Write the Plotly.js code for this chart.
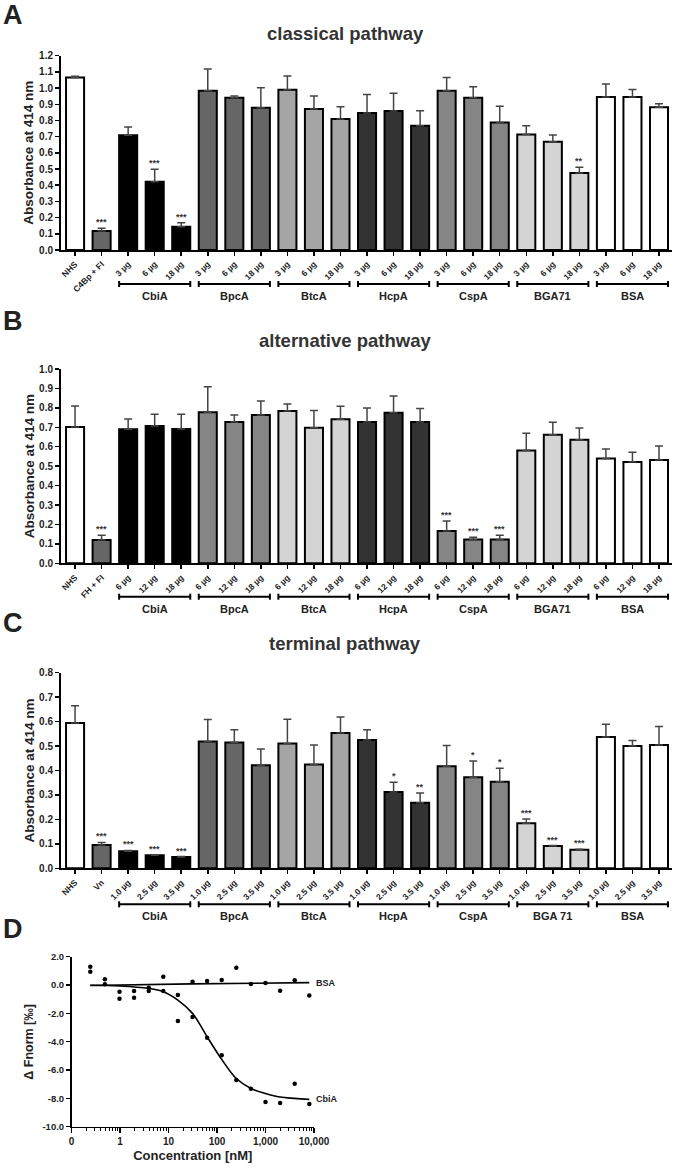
<!DOCTYPE html>
<html>
<head>
<meta charset="utf-8">
<script src="https://cdn.plot.ly/plotly-3.0.1.min.js"></script>
<style>
  html, body { margin: 0; padding: 0; background: #fff; }
  #fig { width: 675px; height: 1168px; }
</style>
</head>
<body>
<div id="fig"></div>
<script>
(function () {
  "use strict";
  const W = 675, H = 1168;
  const FONT = "Liberation Sans, Arial, sans-serif";

  // ---- data: panel A (classical pathway) ----
  const ctrlA = ["NHS", "C4Bp + FI"];
  const groupsA = ["CbiA", "BpcA", "BtcA", "HcpA", "CspA", "BGA71", "BSA"];
  const dosesA = ["3 µg", "6 µg", "18 µg"];
  const valA = [1.065, 0.117, 0.708, 0.422, 0.144, 0.984, 0.941, 0.879, 0.990, 0.871, 0.809,
                0.846, 0.858, 0.768, 0.984, 0.941, 0.788, 0.714, 0.669, 0.476, 0.945, 0.945, 0.881];
  const errA = [0.008, 0.017, 0.052, 0.077, 0.025, 0.134, 0.010, 0.123, 0.085, 0.080, 0.076,
                0.115, 0.110, 0.092, 0.082, 0.068, 0.100, 0.054, 0.041, 0.035, 0.080, 0.047, 0.023];
  const starsA = ["", "***", "", "***", "***", "", "", "", "", "", "", "", "", "", "", "", "",
                  "", "", "**", "", "", ""];
  const colA = ["#ffffff", "#666666", "#000000", "#666666", "#a5a5a5", "#333333", "#858585", "#d4d4d4", "#ffffff"];

  // ---- data: panel B (alternative pathway) ----
  const ctrlB = ["NHS", "FH + FI"];
  const groupsB = ["CbiA", "BpcA", "BtcA", "HcpA", "CspA", "BGA71", "BSA"];
  const dosesB = ["6 µg", "12 µg", "18 µg"];
  const valB = [0.702, 0.120, 0.690, 0.707, 0.691, 0.777, 0.727, 0.763, 0.784, 0.698, 0.741,
                0.727, 0.775, 0.727, 0.166, 0.122, 0.122, 0.581, 0.662, 0.636, 0.540, 0.521, 0.532];
  const errB = [0.108, 0.024, 0.053, 0.060, 0.076, 0.132, 0.036, 0.072, 0.036, 0.088, 0.067,
                0.072, 0.086, 0.070, 0.052, 0.012, 0.022, 0.088, 0.064, 0.060, 0.048, 0.050, 0.072];
  const starsB = ["", "***", "", "", "", "", "", "", "", "", "", "", "", "", "***", "***", "***",
                  "", "", "", "", "", ""];
  const colB = ["#ffffff", "#666666", "#000000", "#858585", "#d4d4d4", "#333333", "#858585", "#d4d4d4", "#ffffff"];

  // ---- data: panel C (terminal pathway) ----
  const ctrlC = ["NHS", "Vn"];
  const groupsC = ["CbiA", "BpcA", "BtcA", "HcpA", "CspA", "BGA 71", "BSA"];
  const dosesC = ["1.0 µg", "2.5 µg", "3.5 µg"];
  const valC = [0.594, 0.095, 0.070, 0.053, 0.046, 0.519, 0.515, 0.421, 0.510, 0.425, 0.553,
                0.525, 0.312, 0.268, 0.417, 0.372, 0.354, 0.184, 0.091, 0.076, 0.537, 0.500, 0.504];
  const errC = [0.071, 0.011, 0.003, 0.002, 0.002, 0.090, 0.052, 0.067, 0.100, 0.079, 0.066,
                0.042, 0.040, 0.040, 0.085, 0.067, 0.055, 0.018, 0.002, 0.002, 0.052, 0.023, 0.076];
  const starsC = ["", "***", "***", "***", "***", "", "", "", "", "", "", "", "*", "**", "", "*", "*",
                  "***", "***", "***", "", "", ""];
  const colC = ["#ffffff", "#666666", "#000000", "#666666", "#a5a5a5", "#333333", "#858585", "#d4d4d4", "#ffffff"];

  // ---- data: panel D (MST binding) ----
  const concD = [0.244, 0.488, 0.977, 1.95, 3.91, 7.81, 15.6, 31.3, 62.5, 125, 250, 500, 1000, 2000, 4000, 8000];
  const bsaD  = [0.94, 0.05, -0.47, -0.42, -0.19, 0.59, -0.71, 0.24, 0.28, 0.35, 1.22, 0.07, 0.14, -0.40, 0.33, -0.73];
  const cbiaD = [1.29, 0.40, -0.96, -0.89, -0.42, -0.42, -2.54, -2.26, -3.72, -4.96, -6.70, -7.32, -8.26, -8.33, -6.96, -8.40];
  const fitBsaX = [0.244, 30, 8000];
  const fitBsaY = [-0.03, 0.08, 0.17];
  const fitCbiaX = [0.244, 0.977, 3.91, 7.81, 15.6, 31.3, 62.5, 125, 250, 500, 1000, 2000, 4000, 8000];
  const fitCbiaY = [-0.02, -0.07, -0.24, -0.47, -1.06, -2.00, -3.65, -5.25, -6.60, -7.30, -7.65, -7.90, -8.00, -8.07];
  const xTickD = [0.1, 1, 10, 100, 1000, 10000];
  const xTextD = ["0", "1", "10", "100", "1,000", "10,000"];

  const py = px => 1 - px / H;
  const traces = [], shapes = [], annotations = [];
  const layout = {
    width: W, height: H, margin: { l: 0, r: 0, t: 0, b: 0 },
    paper_bgcolor: "#fff", plot_bgcolor: "rgba(0,0,0,0)", showlegend: false,
    font: { family: FONT, color: "#222" }
  };

  function bold(size, color) {
    return { family: FONT, size: size, color: color || "#222", weight: "bold" };
  }

  // one bar panel with group brackets underneath
  function barPanel(n, ctrl, groups, doses, vals, errs, stars, cols, opt) {
    const xs = vals.map((v, i) => i);
    const labels = ctrl.slice();
    const colors = [cols[0], cols[1]];
    groups.forEach((g, gi) => doses.forEach(d => { labels.push(d); colors.push(cols[gi + 2]); }));
    const sfx = n === 1 ? "" : String(n);
    traces.push({
      type: "bar", x: xs, y: vals, xaxis: "x" + sfx, yaxis: "y" + sfx, width: 0.68,
      marker: { color: colors, line: { color: "#000", width: 2 } },
      error_y: { type: "data", symmetric: false, array: errs, arrayminus: errs.map(() => 0),
                 color: "#444", thickness: 1.5, width: 4 },
      hoverinfo: "skip"
    });
    layout["xaxis" + sfx] = {
      domain: [61 / W, 672 / W], range: [-0.53, vals.length - 0.51], anchor: "y" + sfx,
      tickmode: "array", tickvals: xs, ticktext: labels, tickangle: -45,
      tickfont: bold(8.5), ticks: "outside", ticklen: 4, tickwidth: 1.5, tickcolor: "#000",
      showline: true, linecolor: "#000", linewidth: 2, showgrid: false, zeroline: false, fixedrange: true
    };
    layout["yaxis" + sfx] = {
      domain: [py(opt.bottom), py(opt.top)], range: [0, opt.ymax], anchor: "x" + sfx,
      dtick: 0.1, tick0: 0, tickformat: ".1f", tickfont: bold(10),
      ticks: "outside", ticklen: 4, tickwidth: 1.5, tickcolor: "#000",
      showline: true, linecolor: "#000", linewidth: 2, showgrid: false, zeroline: false, fixedrange: true
    };
    // significance stars
    stars.forEach((s, i) => {
      if (!s) return;
      annotations.push({ x: i, y: vals[i] + errs[i], xref: "x" + sfx, yref: "y" + sfx, text: s,
        showarrow: false, xanchor: "center", yanchor: "bottom", yshift: -1, font: bold(9, "#333") });
    });
    // group brackets
    groups.forEach((g, gi) => {
      const a = 2 + gi * doses.length - 0.34, b = 2 + gi * doses.length + doses.length - 1 + 0.34;
      const yl = py(opt.bracket), cap = 3 / H;
      const ln = { color: "#000", width: 2 };
      shapes.push({ type: "line", xref: "x" + sfx, yref: "paper", x0: a, x1: b, y0: yl, y1: yl, line: ln });
      shapes.push({ type: "line", xref: "x" + sfx, yref: "paper", x0: a, x1: a, y0: yl - cap, y1: yl + cap, line: ln });
      shapes.push({ type: "line", xref: "x" + sfx, yref: "paper", x0: b, x1: b, y0: yl - cap, y1: yl + cap, line: ln });
      annotations.push({ x: (a + b) / 2, y: py(opt.label), xref: "x" + sfx, yref: "paper", text: g,
        showarrow: false, xanchor: "center", yanchor: "middle", font: bold(11) });
    });
    // panel title, y title, letter
    annotations.push({ x: 345 / W, y: py(opt.title), xref: "paper", yref: "paper", text: opt.name,
      showarrow: false, xanchor: "center", yanchor: "middle", font: bold(18.5, "#333") });
    annotations.push({ x: 29 / W, y: py((opt.top + opt.bottom) / 2), xref: "paper", yref: "paper",
      text: "Absorbance at 414 nm", textangle: -90, showarrow: false, xanchor: "center", yanchor: "middle",
      font: bold(13.5) });
    annotations.push({ x: 13 / W, y: py(opt.letterY), xref: "paper", yref: "paper", text: opt.letter,
      showarrow: false, xanchor: "center", yanchor: "middle", font: bold(27, "#222") });
  }

  barPanel(1, ctrlA, groupsA, dosesA, valA, errA, starsA, colA,
    { top: 55.7, bottom: 250, ymax: 1.2, bracket: 284, label: 295.5, title: 34, name: "classical pathway", letter: "A", letterY: 15 });
  barPanel(2, ctrlB, groupsB, dosesB, valB, errB, starsB, colB,
    { top: 369, bottom: 563.3, ymax: 1.0, bracket: 596.7, label: 608.5, title: 341, name: "alternative pathway", letter: "B", letterY: 321 });
  barPanel(3, ctrlC, groupsC, dosesC, valC, errC, starsC, colC,
    { top: 672.7, bottom: 868.3, ymax: 0.8, bracket: 904.3, label: 916, title: 643, name: "terminal pathway", letter: "C", letterY: 623 });

  // ---- panel D ----
  const minorD = [];
  xTickD.slice(0, -1).forEach(d => { for (let k = 2; k <= 9; k++) minorD.push(d * k); });
  const yTickD = [];
  for (let v = -10; v <= 2; v += 2) yTickD.push(v);

  traces.push({ type: "scatter", mode: "lines", x: fitBsaX, y: fitBsaY, xaxis: "x4", yaxis: "y4",
    line: { color: "#000", width: 1.6, shape: "spline" }, hoverinfo: "skip" });
  traces.push({ type: "scatter", mode: "lines", x: fitCbiaX, y: fitCbiaY, xaxis: "x4", yaxis: "y4",
    line: { color: "#000", width: 1.6, shape: "spline", smoothing: 1 }, hoverinfo: "skip" });
  traces.push({ type: "scatter", mode: "markers", x: concD, y: bsaD, xaxis: "x4", yaxis: "y4",
    marker: { color: "#000", size: 4.5 }, hoverinfo: "skip" });
  traces.push({ type: "scatter", mode: "markers", x: concD, y: cbiaD, xaxis: "x4", yaxis: "y4",
    marker: { color: "#000", size: 4.5 }, hoverinfo: "skip" });

  layout.xaxis4 = {
    type: "log", domain: [71.5 / W, 314 / W], range: [-1, 4], anchor: "y4",
    tickmode: "array", tickvals: xTickD, ticktext: xTextD, tickfont: bold(10),
    ticks: "outside", ticklen: 5, tickwidth: 1.5, tickcolor: "#000",
    minor: { tickmode: "array", tickvals: minorD, ticks: "outside", ticklen: 3, tickwidth: 1, tickcolor: "#000", showgrid: false },
    showline: true, linecolor: "#000", linewidth: 1.5, showgrid: false, zeroline: false, fixedrange: true,
    title: { text: "Concentration [nM]", font: bold(13), standoff: 4 }
  };
  layout.yaxis4 = {
    domain: [py(1126.7), py(956.7)], range: [-10, 2], anchor: "x4",
    tickmode: "array", tickvals: yTickD, ticktext: yTickD.map(v => v.toFixed(1)), tickfont: bold(9.5),
    ticks: "outside", ticklen: 4, tickwidth: 1.5, tickcolor: "#000",
    showline: true, linecolor: "#000", linewidth: 1.5, showgrid: false, zeroline: false, fixedrange: true
  };
  annotations.push({ x: Math.log10(fitBsaX[fitBsaX.length - 1]), y: fitBsaY[fitBsaY.length - 1],
    xref: "x4", yref: "y4", text: "BSA", showarrow: false, xanchor: "left", xshift: 5, font: bold(9) });
  annotations.push({ x: Math.log10(fitCbiaX[fitCbiaX.length - 1]), y: fitCbiaY[fitCbiaY.length - 1],
    xref: "x4", yref: "y4", text: "CbiA", showarrow: false, xanchor: "left", xshift: 5, font: bold(9) });
  annotations.push({ x: 29 / W, y: py((956.7 + 1126.7) / 2), xref: "paper", yref: "paper",
    text: "Δ Fnorm [‰]", textangle: -90, showarrow: false, xanchor: "center", yanchor: "middle", font: bold(12.5) });
  annotations.push({ x: 13 / W, y: py(929), xref: "paper", yref: "paper", text: "D",
    showarrow: false, xanchor: "center", yanchor: "middle", font: bold(27, "#222") });

  layout.shapes = shapes;
  layout.annotations = annotations;
  Plotly.newPlot("fig", traces, layout, { displayModeBar: false, staticPlot: true });
})();
</script>
</body>
</html>
